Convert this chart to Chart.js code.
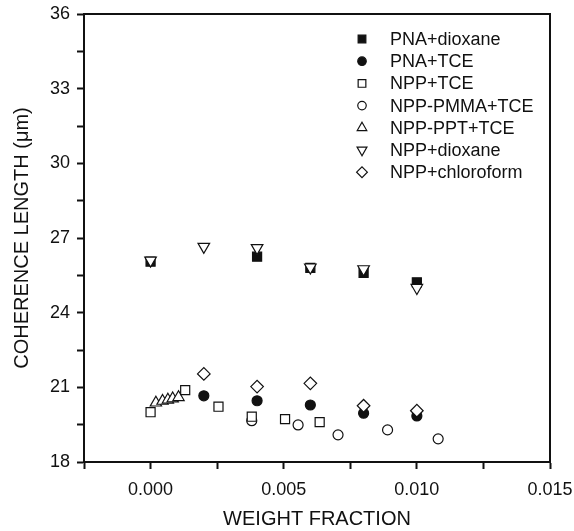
<!DOCTYPE html>
<html>
<head>
<meta charset="utf-8">
<script src="https://cdn.jsdelivr.net/npm/chart.js@4"></script>
<style>
  html, body { margin: 0; padding: 0; background: #fff; }
  #wrap { width: 574px; height: 531px; }
</style>
</head>
<body>
<div id="wrap"><canvas id="chart" width="574" height="531"></canvas></div>
<script>
// --- data (x = weight fraction, y = coherence length in um) ---
const pnaDioxane = [[0.0, 26.05], [0.004, 26.25], [0.006, 25.8], [0.008, 25.6], [0.010, 25.22]];
const pnaTce = [[0.002, 20.66], [0.004, 20.46], [0.006, 20.29], [0.008, 19.96], [0.010, 19.85]];
const nppTce = [[0.0, 20.0], [0.0013, 20.89], [0.00255, 20.22], [0.0038, 19.82], [0.00505, 19.72], [0.00635, 19.6]];
const nppPmmaTce = [[0.0038, 19.66], [0.00554, 19.49], [0.00704, 19.09], [0.0089, 19.29], [0.0108, 18.93]];
const nppPptTce = [[0.0002, 20.38], [0.00045, 20.45], [0.00065, 20.5], [0.00083, 20.55], [0.00105, 20.6]];
const nppDioxane = [[0.0, 26.1], [0.002, 26.65], [0.004, 26.6], [0.006, 25.82], [0.008, 25.75], [0.010, 25.0]];
const nppChloroform = [[0.002, 21.54], [0.004, 21.03], [0.006, 21.16], [0.008, 20.26], [0.010, 20.06]];

const xMin = -0.0025, xMax = 0.015, xStep = 0.0025, xLabelEvery = 0.005;
const yMin = 18, yMax = 36, yStep = 1.5, yLabelEvery = 3;

const ink = '#111';
const font = 'Liberation Sans, Arial, Helvetica, sans-serif';

const toPts = arr => arr.map(p => ({ x: p[0], y: p[1] }));

// order: lower number drawn on top
const series = [
    { label: 'PNA+dioxane', data: pnaDioxane, style: 'rect', fill: ink, r: 6.4, order: 6 },
    { label: 'PNA+TCE', data: pnaTce, style: 'circle', fill: ink, r: 5, order: 5 },
    { label: 'NPP+TCE', data: nppTce, style: 'rect', fill: '#fff', r: 6.4, order: 2 },
    { label: 'NPP-PMMA+TCE', data: nppPmmaTce, style: 'circle', fill: '#fff', r: 5, order: 3 },
    { label: 'NPP-PPT+TCE', data: nppPptTce, style: 'triangle', fill: '#fff', r: 6.5, order: 4 },
    { label: 'NPP+dioxane', data: nppDioxane, style: 'triangle', fill: '#fff', r: 6.7, rot: 180, order: 0 },
    { label: 'NPP+chloroform', data: nppChloroform, style: 'rectRot', fill: '#fff', r: 6.3, order: 1 }
];

const isMultiple = (v, m) => Math.abs(v / m - Math.round(v / m)) < 1e-6;

// frame round the plot area (top and right sides)
const framePlugin = {
    id: 'frame',
    afterDraw(chart) {
        const { ctx, chartArea: a } = chart;
        ctx.save();
        ctx.strokeStyle = ink;
        ctx.lineWidth = 2;
        ctx.beginPath();
        ctx.moveTo(a.left, a.top);
        ctx.lineTo(a.right, a.top);
        ctx.lineTo(a.right, a.bottom);
        ctx.stroke();
        ctx.restore();
    }
};

// legend as a column in the upper right of the plot
const legendPlugin = {
    id: 'colLegend',
    afterDraw(chart) {
        const { ctx, chartArea: a } = chart;
        const mx = a.left + 278, tx = a.left + 306, y0 = a.top + 25, dy = 22.2;
        ctx.save();
        ctx.font = '18px ' + font;
        ctx.textBaseline = 'middle';
        chart.data.datasets.forEach((ds, i) => {
            const y = y0 + i * dy;
            ctx.fillStyle = ds.pointBackgroundColor;
            ctx.strokeStyle = ink;
            ctx.lineWidth = 1.2;
            Chart.helpers.drawPoint(ctx, {
                pointStyle: ds.pointStyle,
                radius: ds.pointRadius * 0.85,
                rotation: ds.pointRotation,
                borderWidth: 1.2
            }, mx, y);
            ctx.fillStyle = ink;
            ctx.fillText(ds.label, tx, y + 1);
        });
        ctx.restore();
    }
};

new Chart(document.getElementById('chart'), {
    type: 'scatter',
    data: {
        datasets: series.map(s => ({
            label: s.label,
            data: toPts(s.data),
            pointStyle: s.style,
            pointRadius: s.r,
            pointHoverRadius: s.r,
            pointRotation: s.rot || 0,
            pointBackgroundColor: s.fill,
            pointBorderColor: ink,
            pointBorderWidth: 1.2,
            order: s.order
        }))
    },
    options: {
        responsive: false,
        animation: false,
        layout: { padding: { top: 14, right: 24, left: 0, bottom: 0 } },
        plugins: {
            legend: { display: false },
            tooltip: { enabled: false }
        },
        scales: {
            x: {
                type: 'linear',
                min: xMin,
                max: xMax,
                afterFit: s => { s.height = 69; s.paddingLeft = 0; s.paddingRight = 0; },
                border: { display: true, color: ink, width: 2 },
                grid: { drawOnChartArea: false, drawTicks: true, tickLength: 7, tickColor: ink, tickWidth: 2 },
                ticks: {
                    stepSize: xStep,
                    color: ink,
                    padding: 10,
                    font: { family: font, size: 18 },
                    maxRotation: 0,
                    autoSkip: false,
                    callback: v => isMultiple(v, xLabelEvery) ? (Math.abs(v) < 1e-9 ? 0 : v).toFixed(3) : ''
                },
                title: {
                    display: true,
                    text: 'WEIGHT FRACTION',
                    color: ink,
                    font: { family: font, size: 20 },
                    padding: { top: 4, bottom: 0 }
                }
            },
            y: {
                type: 'linear',
                min: yMin,
                max: yMax,
                afterFit: s => { s.width = 84; s.paddingTop = 0; s.paddingBottom = 0; },
                border: { display: true, color: ink, width: 2 },
                grid: { drawOnChartArea: false, drawTicks: true, tickLength: 7, tickColor: ink, tickWidth: 2 },
                ticks: {
                    stepSize: yStep,
                    color: ink,
                    padding: 7,
                    font: { family: font, size: 18 },
                    autoSkip: false,
                    callback: v => isMultiple(v, yLabelEvery) ? String(v) : ''
                },
                title: {
                    display: true,
                    text: 'COHERENCE LENGTH (\u03bcm)',
                    color: ink,
                    font: { family: font, size: 20 },
                    padding: { top: 10, bottom: 0 }
                }
            }
        }
    },
    plugins: [framePlugin, legendPlugin]
});
</script>
</body>
</html>
